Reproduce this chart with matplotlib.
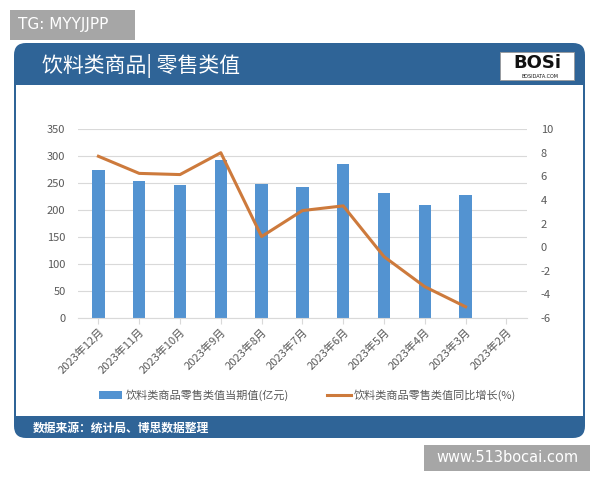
import matplotlib
import matplotlib.pyplot as plt
from matplotlib.patches import FancyBboxPatch, Rectangle

plt.rcParams["font.family"] = ["Noto Sans CJK SC", "DejaVu Sans"]
plt.rcParams["axes.unicode_minus"] = False

months = ["2023年12月", "2023年11月", "2023年10月", "2023年9月", "2023年8月", "2023年7月",
          "2023年6月", "2023年5月", "2023年4月", "2023年3月", "2023年2月"]
retail = [275, 254, 246, 292, 249, 243, 285, 231, 210, 228, None]
growth = [7.7, 6.25, 6.15, 8.0, 0.9, 3.1, 3.5, -0.8, -3.35, -5.05, None]

bar_label = "饮料类商品零售类值当期值(亿元)"
line_label = "饮料类商品零售类值同比增长(%)"
title = "饮料类商品| 零售类值"
source = "数据来源：统计局、博思数据整理"

blue = "#2F6497"
bar_color = "#5393D1"
line_color = "#CD7A3C"
text_color = "#595959"

fig = plt.figure(figsize=(6, 4.8), dpi=100)

# background frame in pixel coords
bg = fig.add_axes([0, 0, 1, 1], zorder=0)
bg.set_xlim(0, 600)
bg.set_ylim(480, 0)
bg.axis("off")
bg.add_patch(FancyBboxPatch((14, 43), 571, 395, boxstyle="round,pad=0,rounding_size=12",
                            facecolor=blue, edgecolor="none"))
bg.add_patch(Rectangle((16, 85), 567, 331, facecolor="white", edgecolor="none"))
bg.text(42, 66, title, color="white", fontsize=15, va="center", ha="left")
bg.text(33, 428, source, color="white", fontsize=8.5, fontweight="bold", va="center", ha="left")

# logo
bg.add_patch(Rectangle((500, 52), 74, 28, facecolor="white", edgecolor="#999999", lw=0.6))
bg.text(537, 63, "BOSi", fontsize=13, fontweight="black", color="#111111",
        ha="center", va="center", family="DejaVu Sans")
bg.text(540, 76, "BOSIDATA.COM", fontsize=3.5, color="#111111", ha="center", va="center",
        family="DejaVu Sans")

# corner tags
bg.add_patch(Rectangle((10, 10), 125, 30, facecolor="#A6A6A6", edgecolor="none"))
bg.text(18, 25, "TG: MYYJJPP", color="white", fontsize=11, va="center", ha="left",
        family="DejaVu Sans")
bg.add_patch(Rectangle((424, 445), 166, 26, facecolor="#A6A6A6", edgecolor="none"))
bg.text(507, 458, "www.513bocai.com", color="white", fontsize=10.5, va="center",
        ha="center", family="DejaVu Sans")

ax = fig.add_axes([0.13, 0.3375, 0.748, 0.3935], zorder=1)
ax.patch.set_alpha(0)
x = list(range(len(months)))
bar_x = [i for i, v in zip(x, retail) if v is not None]
bar_v = [v for v in retail if v is not None]
bars = ax.bar(bar_x, bar_v, width=0.3, color=bar_color, zorder=2)
ax.set_xlim(-0.5, len(months) - 0.5)
ax.set_ylim(0, 350)
ax.set_yticks(range(0, 351, 50))
ax.grid(axis="y", color="#D9D9D9", lw=0.8, zorder=0)
ax.set_xticks(x)
ax.set_xticklabels(months, rotation=45, ha="right", rotation_mode="anchor")
for s in ["top", "right", "left"]:
    ax.spines[s].set_visible(False)
ax.spines["bottom"].set_color("#D9D9D9")
ax.tick_params(axis="both", colors=text_color, labelsize=8, length=0)
ax.tick_params(axis="y", pad=9)
ax.tick_params(axis="x", length=4, color="#D9D9D9", pad=2)

ax2 = ax.twinx()
line_x = [i for i, v in zip(x, growth) if v is not None]
line_v = [v for v in growth if v is not None]
line, = ax2.plot(line_x, line_v, color=line_color, lw=2.2)
ax2.set_ylim(-6, 10)
ax2.set_yticks(range(-6, 11, 2))
for s in ax2.spines.values():
    s.set_visible(False)
ax2.tick_params(axis="y", colors=text_color, labelsize=8, length=0, pad=10)

fig.legend([bars, line], [bar_label, line_label], loc="center",
           bbox_to_anchor=(0.5125, 1 - 395 / 480), ncol=2, frameon=False, fontsize=8,
           labelcolor=text_color, columnspacing=3.5, handlelength=2.1, handletextpad=0.3)

fig.savefig("out.png", dpi=100)
